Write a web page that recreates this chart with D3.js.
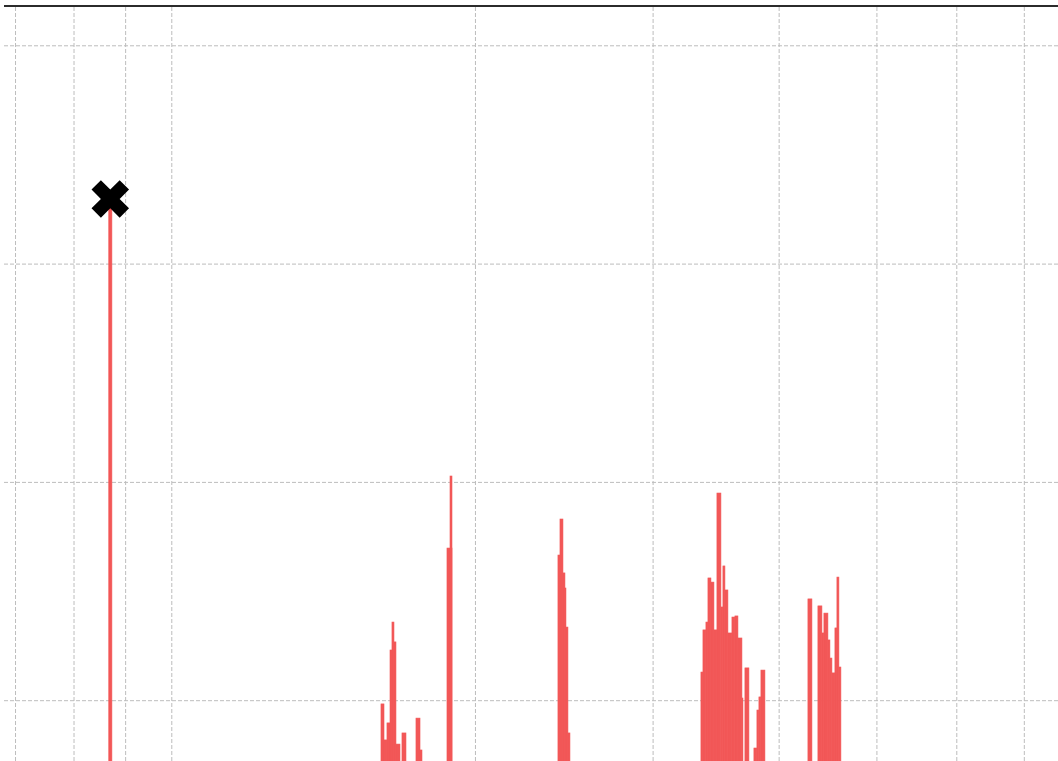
<!DOCTYPE html>
<html>
<head>
<meta charset="utf-8">
<script src="https://cdn.jsdelivr.net/npm/d3@7.9.0/dist/d3.min.js"></script>
<style>
  html, body { margin: 0; padding: 0; background: #fff; }
  svg { display: block; }
</style>
</head>
<body>
<div id="chart"></div>
<script>
/* =========================
   DATA
========================= */
// vertical gridline positions (log x axis)
const xTicks = [0.35, 0.4, 0.45, 0.5, 1, 1.5, 2, 2.5, 3, 3.5];
// horizontal gridline positions
const yTicks = [1, 2, 3, 4];

// each bar: [x start, x end, height]
const peakLine = [[0.4335, 0.4366, 3.296]];

const clusterA = [
  [0.8069, 0.8125, 0.983],
  [0.8125, 0.8180, 0.818],
  [0.8180, 0.8237, 0.896],
  [0.8237, 0.8274, 1.230],
  [0.8274, 0.8312, 1.358],
  [0.8312, 0.8350, 1.267],
  [0.8350, 0.8427, 0.799],
  [0.8465, 0.8543, 0.850],
  [0.8740, 0.8821, 0.918],
  [0.8821, 0.8861, 0.772]
];

const clusterB = [
  [0.9381, 0.9489, 1.697],
  [0.9446, 0.9489, 2.027]
];

const clusterC = [
  [1.2085, 1.2141, 1.665],
  [1.2141, 1.2224, 1.830],
  [1.2224, 1.2280, 1.583],
  [1.2280, 1.2308, 1.514],
  [1.2308, 1.2364, 1.335],
  [1.2364, 1.2421, 0.850]
];

const clusterD = [
  [1.6749, 1.6826, 1.129],
  [1.6826, 1.6941, 1.322],
  [1.6941, 1.7019, 1.358],
  [1.7019, 1.7136, 1.560],
  [1.7136, 1.7253, 1.541],
  [1.7253, 1.7372, 1.322],
  [1.7372, 1.7531, 1.949],
  [1.7531, 1.7611, 1.427],
  [1.7611, 1.7692, 1.615],
  [1.7692, 1.7813, 1.505],
  [1.7813, 1.7977, 1.308],
  [1.7977, 1.8100, 1.381],
  [1.8100, 1.8225, 1.386],
  [1.8225, 1.8392, 1.285],
  [1.8392, 1.8434, 1.010],
  [1.8518, 1.8688, 1.148],
  [1.8902, 1.9032, 0.781],
  [1.9032, 1.9119, 0.955],
  [1.9119, 1.9207, 1.015],
  [1.9207, 1.9383, 1.138]
];

const clusterE = [
  [2.1382, 2.1578, 1.464],
  [2.1875, 2.2076, 1.432],
  [2.2076, 2.2177, 1.308],
  [2.2177, 2.2380, 1.399],
  [2.2380, 2.2483, 1.276],
  [2.2483, 2.2586, 1.193],
  [2.2586, 2.2741, 1.125],
  [2.2741, 2.2845, 1.331],
  [2.2845, 2.2949, 1.564],
  [2.2949, 2.3054, 1.152]
];

// highlighted maximum
const markerPoint = [[0.4350, 3.296]];

/* =========================
   LAYOUT
========================= */
const width = 1058;
const height = 761;
const plot = { left: 4, right: 1058, top: 6 };

const svg = d3.select('#chart')
  .append('svg')
  .attr('width', width)
  .attr('height', height)
  .style('background', '#fff');

/* =========================
   SCALES
========================= */
const xScale = d3.scaleLog()
  .domain([0.3413, 3.784])
  .range([plot.left, plot.right]);

const yScale = d3.scaleLinear()
  .domain([0, 4.18])
  .range([918.5, plot.top]);

/* =========================
   GRID
========================= */
const grid = svg.append('g').attr('class', 'grid');

grid.append('g')
  .attr('transform', `translate(0,${height})`)
  .call(d3.axisBottom(xScale).tickValues(xTicks).tickSize(-(height - plot.top)).tickFormat(''))
  .call(g => g.select('.domain').remove());

grid.append('g')
  .attr('transform', `translate(${plot.left},0)`)
  .call(d3.axisLeft(yScale).tickValues(yTicks).tickSize(-(plot.right - plot.left)).tickFormat(''))
  .call(g => g.select('.domain').remove());

grid.selectAll('line')
  .attr('stroke', '#bdbdbd')
  .attr('stroke-width', 1)
  .attr('stroke-dasharray', '4,2');

/* =========================
   BARS
========================= */
const allBars = [].concat(peakLine, clusterA, clusterB, clusterC, clusterD, clusterE);

svg.append('g')
  .attr('class', 'bars')
  .selectAll('rect')
  .data(allBars)
  .join('rect')
  .attr('x', d => xScale(d[0]))
  .attr('width', d => xScale(d[1]) - xScale(d[0]))
  .attr('y', d => yScale(d[2]))
  .attr('height', d => yScale(0) - yScale(d[2]))
  .attr('fill', '#f25757')
  .attr('stroke', '#f25757')
  .attr('stroke-width', 0.6);

/* =========================
   TOP FRAME
========================= */
svg.append('line')
  .attr('x1', plot.left)
  .attr('x2', plot.right)
  .attr('y1', plot.top)
  .attr('y2', plot.top)
  .attr('stroke', '#2b2b2b')
  .attr('stroke-width', 2);

/* =========================
   MARKER
========================= */
svg.append('g')
  .selectAll('path')
  .data(markerPoint)
  .join('path')
  .attr('d', d3.symbol().type(d3.symbolCross).size(880))
  .attr('transform', d => `translate(${xScale(d[0])},${yScale(d[1])}) rotate(45)`)
  .attr('fill', '#000');
</script>
</body>
</html>
